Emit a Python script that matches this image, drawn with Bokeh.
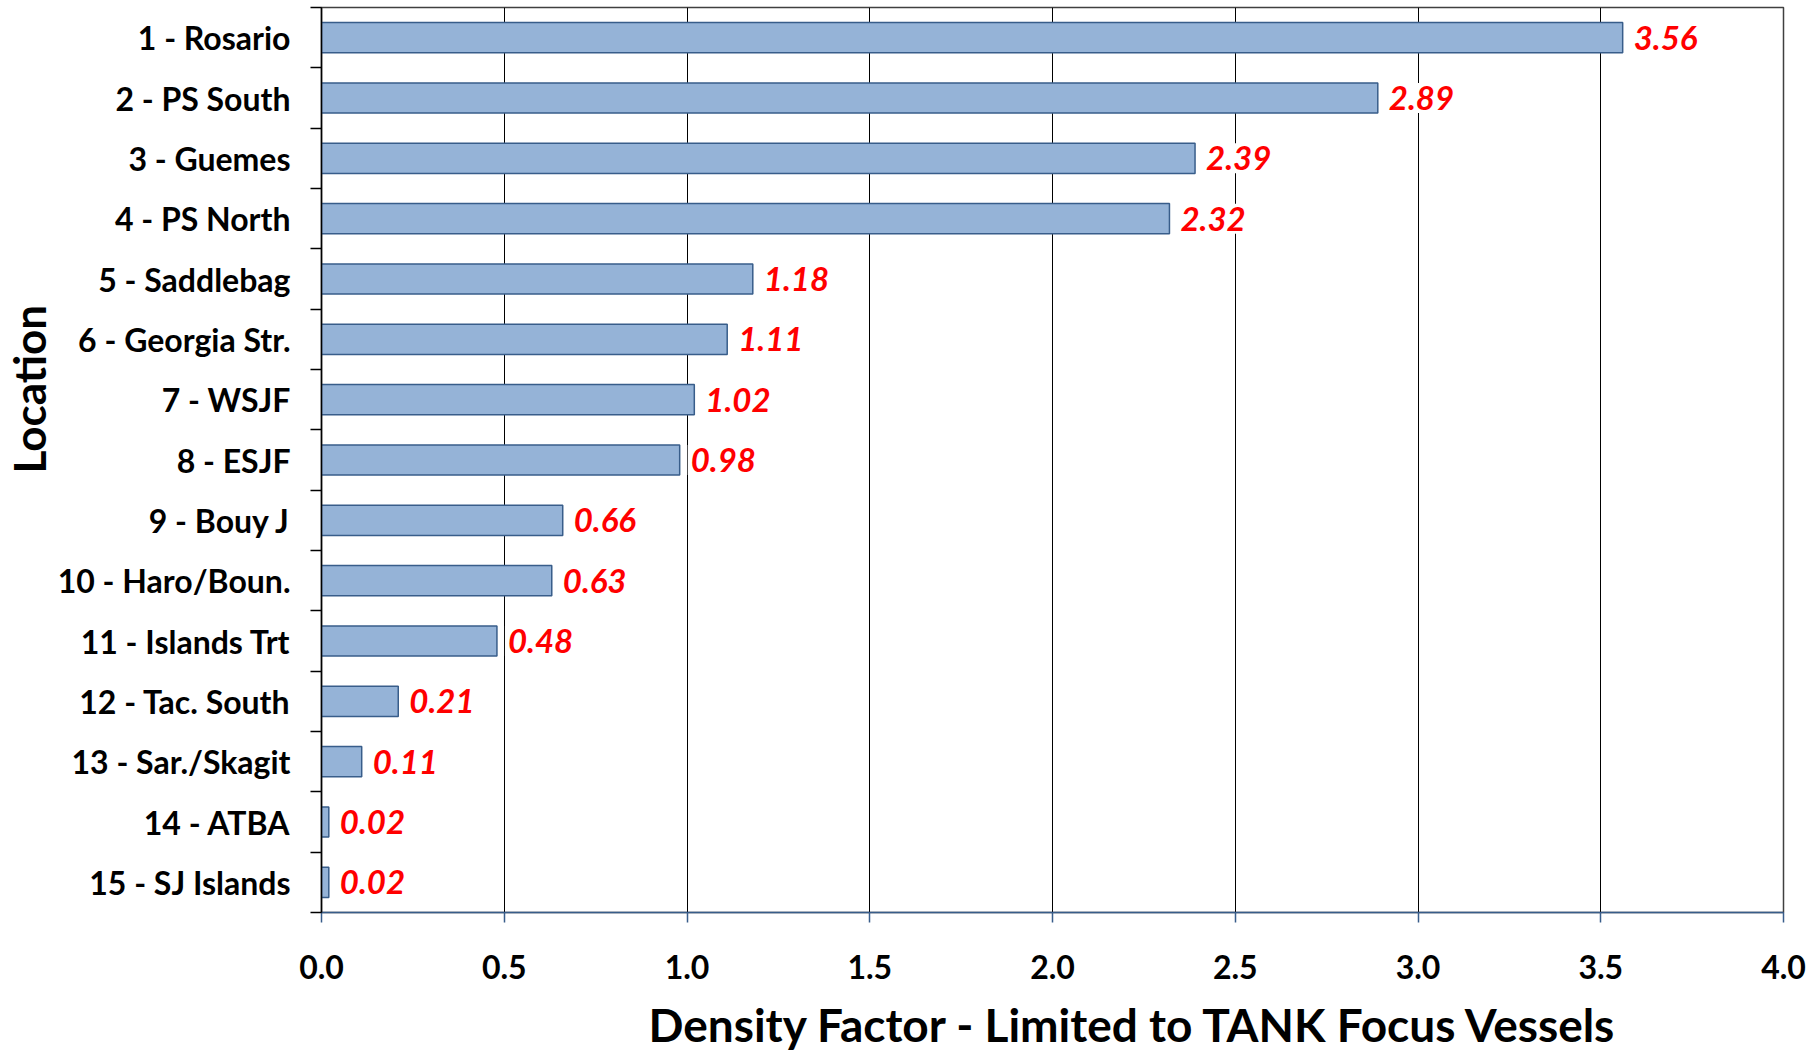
from bokeh.plotting import figure
from bokeh.models import Range1d, FixedTicker, Label, PrintfTickFormatter, Title
from bokeh.embed import file_html
from bokeh.resources import INLINE

categories = ["1 - Rosario", "2 - PS South", "3 - Guemes", "4 - PS North",
              "5 - Saddlebag", "6 - Georgia Str.", "7 - WSJF", "8 - ESJF",
              "9 - Bouy J", "10 - Haro/Boun.", "11 - Islands Trt",
              "12 - Tac. South", "13 - Sar./Skagit", "14 - ATBA", "15 - SJ Islands"]
values = [3.56, 2.89, 2.39, 2.32, 1.18, 1.11, 1.02, 0.98, 0.66, 0.63, 0.48,
          0.21, 0.11, 0.02, 0.02]
value_labels = ["3.56", "2.89", "2.39", "2.32", "1.18", "1.11", "1.02", "0.98",
                "0.66", "0.63", "0.48", "0.21", "0.11", "0.02", "0.02"]
x_ticks = [0.0, 0.5, 1.0, 1.5, 2.0, 2.5, 3.0, 3.5, 4.0]
x_title = "Density  Factor - Limited to TANK Focus Vessels"
y_title = "Location"

FONT = "Lato"
n = len(categories)
ypos = [i + 0.5 for i in range(n)]
bounds = list(range(n + 1))

W, H = 1816, 1058
p = figure(width=W, height=H, output_backend="svg", toolbar_location=None,
           title=None,
           x_range=Range1d(0, 4), y_range=Range1d(n, 0),
           min_border_left=321, min_border_right=W - 1783, min_border_top=7,
           min_border_bottom=H - 912)
p.background_fill_color = "white"
p.border_fill_color = "white"
p.outline_line_color = "#404040"
p.outline_line_width = 1.5

# grid
p.xgrid.ticker = FixedTicker(ticks=x_ticks)
p.xgrid.grid_line_color = "black"
p.xgrid.grid_line_width = 1
p.ygrid.grid_line_color = None

# bars
p.hbar(y=ypos, left=0, right=values, height=0.5,
       fill_color="#95B3D7", line_color="#385D8A", line_width=1.5)

# value labels
for yv, xv, txt in zip(ypos, values, value_labels):
    p.add_layout(Label(x=xv, y=yv, text=txt, x_offset=8,
                       text_align="left", text_baseline="middle",
                       text_font=FONT, text_font_style="bold italic",
                       text_font_size="33px", text_color="#FF0000",
                       background_fill_color="white", padding=3))

# x axis
xa = p.xaxis[0]
xa.ticker = FixedTicker(ticks=x_ticks)
xa.formatter = PrintfTickFormatter(format="%.1f")
xa.axis_line_color = "#385D8A"
xa.axis_line_width = 1.5
xa.major_tick_line_color = "#385D8A"
xa.major_tick_line_width = 1.5
xa.major_tick_out = 10
xa.major_tick_in = 0
xa.minor_tick_line_color = None
xa.major_label_standoff = 32
xa.major_label_text_font = FONT
xa.major_label_text_font_style = "bold"
xa.major_label_text_font_size = "32px"
xa.major_label_text_color = "black"

# y axis
ya = p.yaxis[0]
ya.ticker = FixedTicker(ticks=ypos, minor_ticks=bounds)
ya.major_label_overrides = {yv: c for yv, c in zip(ypos, categories)}
ya.axis_line_color = "black"
ya.axis_line_width = 1.5
ya.major_tick_line_color = None
ya.major_tick_out = 0
ya.major_tick_in = 0
ya.minor_tick_line_color = "black"
ya.minor_tick_line_width = 1.5
ya.minor_tick_out = 11
ya.minor_tick_in = 0
ya.major_label_standoff = 20
ya.major_label_text_font = FONT
ya.major_label_text_font_style = "bold"
ya.major_label_text_font_size = "32px"
ya.major_label_text_color = "black"

# axis titles (as side-panel titles so they are not clipped)
p.add_layout(Title(text=x_title, align="left", offset=327,
                   vertical_align="top", standoff=8,
                   padding=dict(left=0, right=0, top=11, bottom=0),
                   text_font=FONT, text_font_style="bold",
                   text_font_size="46px", text_color="black"), "below")
p.add_layout(Title(text=y_title, align="left", offset=439,
                   vertical_align="bottom", standoff=0,
                   text_font=FONT, text_font_style="bold",
                   text_font_size="44px", text_color="black"), "left")

open("out.html", "w").write(file_html(p, INLINE))
